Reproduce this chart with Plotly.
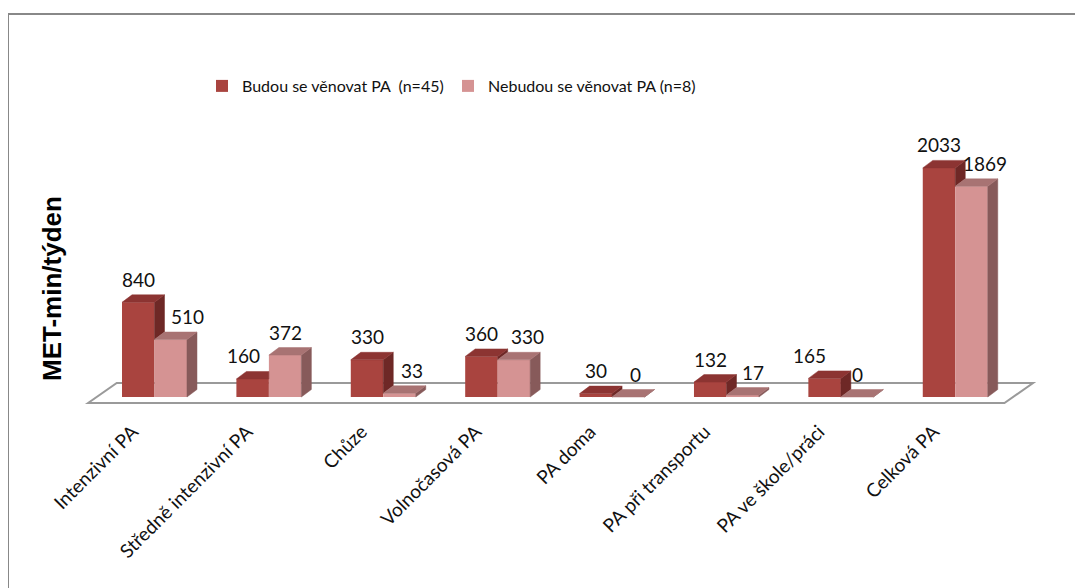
import plotly.graph_objects as go

# ---------------- data ----------------
categories = ["Intenzivní PA", "Středně intenzivní PA", "Chůze", "Volnočasová PA",
              "PA doma", "PA při transportu", "PA ve škole/práci", "Celková PA"]
budou = [840, 160, 330, 360, 30, 132, 165, 2033]
nebudou = [510, 372, 33, 330, 0, 17, 0, 1869]
series_names = ["Budou se věnovat PA\u00a0\u00a0(n=45)", "Nebudou se věnovat PA (n=8)"]
y_title = "MET-min/týden"

# ---------------- style / geometry ----------------
W, H = 1083, 588
OFF = 8                      # page body margin compensation
PL, PR, PT, PB = 60, 1043, 110, 420   # plot area in page pixels
ML, MT = PL - OFF, PT - OFF
MR, MB = W - (PR - OFF), H - (PB - OFF)
plot_w = PR - PL
plot_h = PB - PT
X_RANGE = [-0.826, 7.767]
Y_RANGE = [-204.1, 2546.6]
px_x = plot_w / (X_RANGE[1] - X_RANGE[0])
px_y = plot_h / (Y_RANGE[1] - Y_RANGE[0])

BAR_W = 0.284
DX = 10 / px_x      # depth offset of bars (x units)
DY = 7.5 / px_y     # depth offset of bars (value units)

DARK = dict(front="#A9443F", top="#8C3432", side="#6E2826")
LIGHT = dict(front="#D59393", top="#A87373", side="#875A5A")

label_font = dict(family="Lato", size=19, color="#111111")
legend_font = dict(family="Lato", size=16, color="#111111")
dark_nudge = [0, -9, 0, 0, 0, 0, -15, 0]
light_nudge = [17, 0, 12, 14, 7, 10, 0, 13]

n = len(categories)
fig = go.Figure()


def poly(pts, color):
    xs = [p[0] for p in pts] + [pts[0][0]]
    ys = [p[1] for p in pts] + [pts[0][1]]
    fig.add_trace(go.Scatter(x=xs, y=ys, mode="lines", fill="toself",
                             fillcolor=color, line=dict(color=color, width=0.5),
                             hoverinfo="skip", showlegend=False))


# front faces (bars)
fig.add_trace(go.Bar(x=[i - BAR_W / 2 for i in range(n)], y=budou, width=BAR_W,
                     marker=dict(color=DARK["front"], line=dict(width=0)),
                     name=series_names[0], legend="legend"))
fig.add_trace(go.Bar(x=[i + BAR_W / 2 for i in range(n)], y=nebudou, width=BAR_W,
                     marker=dict(color=LIGHT["front"], line=dict(width=0)),
                     name=series_names[1], legend="legend2"))

# 3D faces
for i in range(n):
    d, l = budou[i], nebudou[i]
    x0, x1 = i - BAR_W, i
    if d > l:
        poly([(x1, l), (x1, d), (x1 + DX, d + DY), (x1 + DX, l + DY)], DARK["side"])
        poly([(x0, d), (x1, d), (x1 + DX, d + DY), (x0 + DX, d + DY)], DARK["top"])
    else:
        poly([(x0, d), (x1, d), (x1, d + DY), (x0 + DX, d + DY)], DARK["top"])
    lx0, lx1 = i, i + BAR_W
    poly([(lx1, 0), (lx1, l), (lx1 + DX, l + DY), (lx1 + DX, DY)], LIGHT["side"])
    poly([(lx0, l), (lx1, l), (lx1 + DX, l + DY), (lx0 + DX, l + DY)], LIGHT["top"])

# value labels
for i in range(n):
    fig.add_annotation(x=i - BAR_W / 2, y=budou[i], text=str(budou[i]), showarrow=False,
                       yanchor="middle", xanchor="center", yshift=23, xshift=dark_nudge[i],
                       font=label_font)
    fig.add_annotation(x=i + BAR_W / 2, y=nebudou[i], text=str(nebudou[i]), showarrow=False,
                       yanchor="middle", xanchor="center", yshift=23, xshift=light_nudge[i],
                       font=label_font)

# floor
f_left, f_right = -0.58, n - 0.57
f_front, f_depth_x, f_depth_y = -53, 0.25, 177
floor_path = (f"M {f_left},{f_front} L {f_right},{f_front} "
              f"L {f_right + f_depth_x},{f_front + f_depth_y} "
              f"L {f_left + f_depth_x},{f_front + f_depth_y} Z")
shapes = [dict(type="path", path=floor_path, xref="x", yref="y", layer="below",
               fillcolor="white", line=dict(color="#9a9a9a", width=2))]


def pxx(p):
    return (p - PL) / plot_w


def pxy(p):
    return (PB - p) / plot_h


# outer chart frame (left & top)
shapes.append(dict(type="line", xref="paper", yref="paper", x0=pxx(8), x1=pxx(8),
                   y0=pxy(14), y1=pxy(600), line=dict(color="#888888", width=2)))
shapes.append(dict(type="line", xref="paper", yref="paper", x0=pxx(8), x1=pxx(1100),
                   y0=pxy(14), y1=pxy(14), line=dict(color="#888888", width=2)))

fig.add_annotation(xref="paper", yref="paper", x=pxx(52), y=pxy(289),
                   xanchor="center", yanchor="middle",
                   text=f"<b>{y_title}</b>", textangle=-90, showarrow=False,
                   font=dict(family="Liberation Sans", size=26, color="#000000"))

legend_common = dict(orientation="h", xanchor="left", yanchor="middle", font=legend_font,
                     bgcolor="rgba(0,0,0,0)")

fig.update_layout(
    width=W, height=H,
    margin=dict(l=ML, r=MR, t=MT, b=MB),
    paper_bgcolor="white", plot_bgcolor="white",
    barmode="overlay",
    shapes=shapes,
    showlegend=True,
    legend=dict(x=pxx(202), y=pxy(86), **legend_common),
    legend2=dict(x=pxx(448), y=pxy(86), **legend_common),
    xaxis=dict(range=X_RANGE, tickvals=[i - 0.19 for i in range(n)], ticktext=categories,
               tickangle=-45, showgrid=False, zeroline=False, showline=False, ticks="",
               ticklabelstandoff=-4,
               tickfont=dict(family="Lato", size=19, color="#111111"), fixedrange=True),
    yaxis=dict(range=Y_RANGE, visible=False, fixedrange=True),
)

fig.write_html("out.html")
